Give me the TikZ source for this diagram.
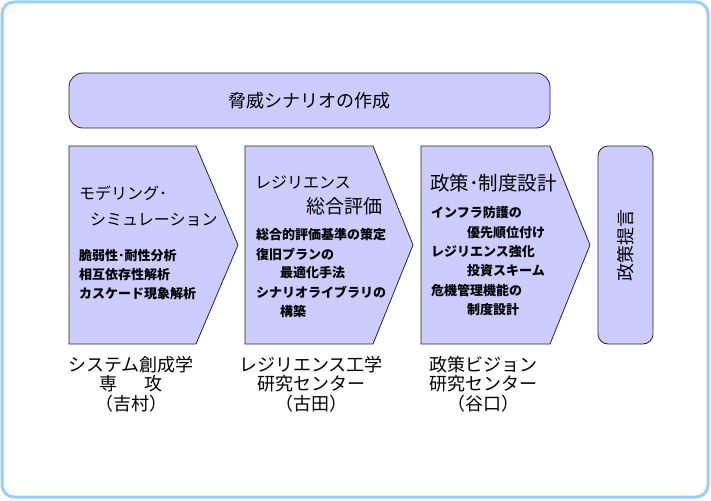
\documentclass[tikz,border=0pt]{standalone}
\usepackage{fontspec}
\newfontfamily\jp{Noto Sans CJK JP}
\definecolor{boxfill}{HTML}{CCCCFF}
\definecolor{frameblue}{HTML}{99CCFF}
\begin{document}
\begin{tikzpicture}[x=1pt,y=-1pt,
  shp/.style={draw=black!85,line width=0.8pt,fill=boxfill},
  big/.style={font=\jp\fontsize{16}{18}\selectfont,inner sep=0pt,anchor=west},
  small/.style={font=\jp\bfseries\fontsize{13}{15}\selectfont,inner sep=0pt,anchor=west},
  lab/.style={font=\jp\fontsize{18}{20}\selectfont,inner sep=0pt,anchor=center}]
\useasboundingbox (0,0) rectangle (711,500);
\draw[frameblue,line width=3pt,rounded corners=12pt] (2,2) rectangle (708,497);
% banner
\draw[shp,rounded corners=14pt] (69,73) rectangle (550,128);
\node[font=\jp\fontsize{18}{20}\selectfont,inner sep=0pt] (title) at (309.5,101) {脅威シナリオの作成};
% chevrons
\draw[shp] (69,146) -- (196,146) -- (238,245) -- (196,344) -- (69,344) -- cycle;
\draw[shp] (245,146) -- (373,146) -- (413,245) -- (373,344) -- (245,344) -- cycle;
\draw[shp] (421,146) -- (550,146) -- (590,245) -- (550,344) -- (421,344) -- cycle;
\draw[shp,rounded corners=10pt] (598,146) rectangle (653,344);
\node[font=\jp\fontsize{18}{20}\selectfont,inner sep=0pt,rotate=90] (teigen) at (626,245) {政策提言};
% chevron 1
\node[big] (c1a) at (79,193) {モデリング･};
\node[big] (c1b) at (90,220) {シミュレーション};
\node[small] (c1c) at (79,256) {脆弱性･耐性分析};
\node[small] (c1d) at (79,275) {相互依存性解析};
\node[small] (c1e) at (79,294) {カスケード現象解析};
% chevron 2
\node[big] (c2a) at (255,182) {レジリエンス};
\node[big,font=\jp\fontsize{19}{21}\selectfont] (c2b) at (306,206) {総合評価};
\node[small] (c2c) at (256,235) {総合的評価基準の策定};
\node[small] (c2d) at (256,254) {復旧プランの};
\node[small] (c2e) at (280,273) {最適化手法};
\node[small] (c2f) at (256,292) {シナリオライブラリの};
\node[small] (c2g) at (280,311) {構築};
% chevron 3
\node[big,font=\jp\fontsize{19.5}{21}\selectfont] (c3a) at (430,183) {政策･制度設計};
\node[small] (c3b) at (431,213) {インフラ防護の};
\node[small] (c3c) at (467,233) {優先順位付け};
\node[small] (c3d) at (431,252) {レジリエンス強化};
\node[small] (c3e) at (467,271) {投資スキーム};
\node[small] (c3f) at (431,291) {危機管理機能の};
\node[small] (c3g) at (467,310) {制度設計};
% bottom labels
\node[lab] (l1a) at (131,365) {システム創成学};
\node[lab] (l1b) at (131,384) {専\hspace{1.45em}攻};
\node[lab] (l1c) at (131,404) {（吉村）};
\node[lab] (l2a) at (311,365) {レジリエンス工学};
\node[lab] (l2b) at (311,384) {研究センター};
\node[lab] (l2c) at (311,404) {（古田）};
\node[lab] (l3a) at (483,365) {政策ビジョン};
\node[lab] (l3b) at (483,384) {研究センター};
\node[lab] (l3c) at (483,404) {（谷口）};
\end{tikzpicture}
\end{document}
